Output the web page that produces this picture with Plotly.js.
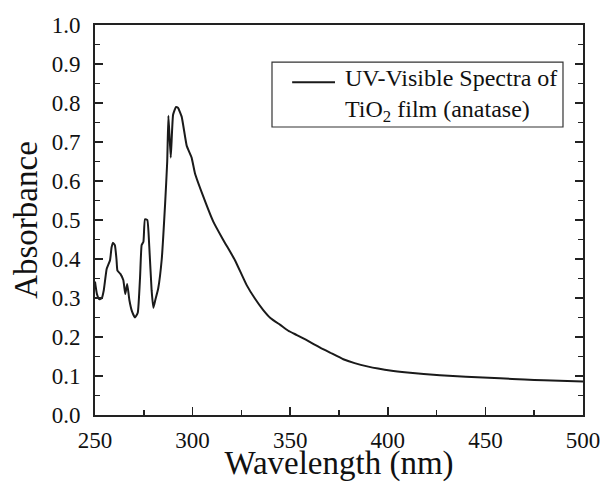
<!DOCTYPE html>
<html>
<head>
<meta charset="utf-8">
<script src="https://cdn.plot.ly/plotly-3.0.1.min.js"></script>
<style>html,body{margin:0;padding:0;background:#fff;}#chart{width:616px;height:482px;}</style>
</head>
<body>
<div id="chart"></div>
<script>
const wavelength = [250, 251, 252.2, 253.5, 254.5, 256, 257.7, 258.5, 259.2, 260.2, 261, 261.5, 263, 264.5, 265.5, 266.5, 267.6, 269, 270.5, 271.9, 273.1, 273.9, 274.8, 275.6, 276.8, 277.8, 279, 279.9, 280.9, 282.4, 284.2, 285.9, 287, 287.6, 288.8, 290, 291.5, 292.5, 294.4, 297, 299.5, 301.2, 305.5, 310.6, 315.7, 321.7, 327.7, 332, 336.2, 340, 344.9, 349, 353.4, 358, 362, 366, 370.4, 377.2, 383, 390, 395, 401.1, 410, 426.7, 440, 457.5, 470, 480, 500];
const absorbance = [0.342, 0.31, 0.297, 0.30, 0.32, 0.375, 0.397, 0.43, 0.442, 0.435, 0.40, 0.37, 0.362, 0.346, 0.31, 0.336, 0.295, 0.265, 0.25, 0.262, 0.355, 0.436, 0.444, 0.502, 0.50, 0.432, 0.32, 0.275, 0.295, 0.325, 0.40, 0.54, 0.65, 0.767, 0.66, 0.77, 0.79, 0.788, 0.765, 0.69, 0.66, 0.62, 0.56, 0.496, 0.449, 0.397, 0.333, 0.298, 0.269, 0.248, 0.231, 0.216, 0.205, 0.193, 0.182, 0.171, 0.16, 0.143, 0.133, 0.124, 0.119, 0.114, 0.109, 0.102, 0.098, 0.094, 0.091, 0.089, 0.086];
const seriesName = "UV-Visible Spectra of<br>TiO<sub>2</sub> film (anatase)";
const xTitle = "Wavelength (nm)";
const yTitle = "Absorbance";

const font = 'Liberation Serif';
const ink = '#1a1a1a';
const trace = {
  x: wavelength, y: absorbance, type: 'scatter', mode: 'lines',
  name: seriesName, showlegend: false,
  line: {color: ink, width: 2, shape: 'spline', smoothing: 0.4}
};
const axisCommon = {
  showgrid: false, zeroline: false, showline: true, linecolor: '#222', linewidth: 2,
  ticks: 'inside', ticklen: 8, tickwidth: 1.5, tickcolor: '#222',
  tickfont: {family: font, size: 23, color: '#111'}
};
const layout = {
  width: 616, height: 482,
  margin: {l: 95, r: 33, t: 25, b: 67},
  paper_bgcolor: '#fff', plot_bgcolor: '#fff',
  font: {family: font, color: '#111'},
  showlegend: false,
  xaxis: Object.assign({}, axisCommon, {
    range: [250, 500], dtick: 50, tick0: 250, mirror: true, ticklabelstandoff: 3,
    minor: {dtick: 25, ticks: 'inside', ticklen: 5, tickcolor: '#222', tickwidth: 1.5},
    title: {text: xTitle, font: {family: font, size: 33, color: '#111'}, standoff: 4}
  }),
  yaxis: Object.assign({}, axisCommon, {
    range: [0, 1], dtick: 0.1, tick0: 0, tickformat: '.1f', mirror: 'ticks', ticklabelstandoff: 8,
    minor: {dtick: 0.05, ticks: 'inside', ticklen: 5, tickcolor: '#222', tickwidth: 1.5},
    title: {text: yTitle, font: {family: font, size: 33, color: '#111'}, standoff: 4}
  }),
  shapes: [
    {type: 'rect', xref: 'paper', yref: 'paper', x0: 0.3627, x1: 0.959, y0: 0.7385, y1: 0.905,
     line: {color: '#333', width: 1.2}, fillcolor: '#fff'},
    {type: 'line', xref: 'paper', yref: 'paper', x0: 0.404, x1: 0.4918, y0: 0.853, y1: 0.853,
     line: {color: ink, width: 2}}
  ],
  annotations: [
    {xref: 'paper', yref: 'paper', x: 0.5082, y: 0.818, xanchor: 'left', yanchor: 'middle',
     text: seriesName, showarrow: false, align: 'left',
     font: {family: font, size: 24, color: '#111'}}
  ]
};
Plotly.newPlot('chart', [trace], layout, {displayModeBar: false, staticPlot: true});
</script>
</body>
</html>
